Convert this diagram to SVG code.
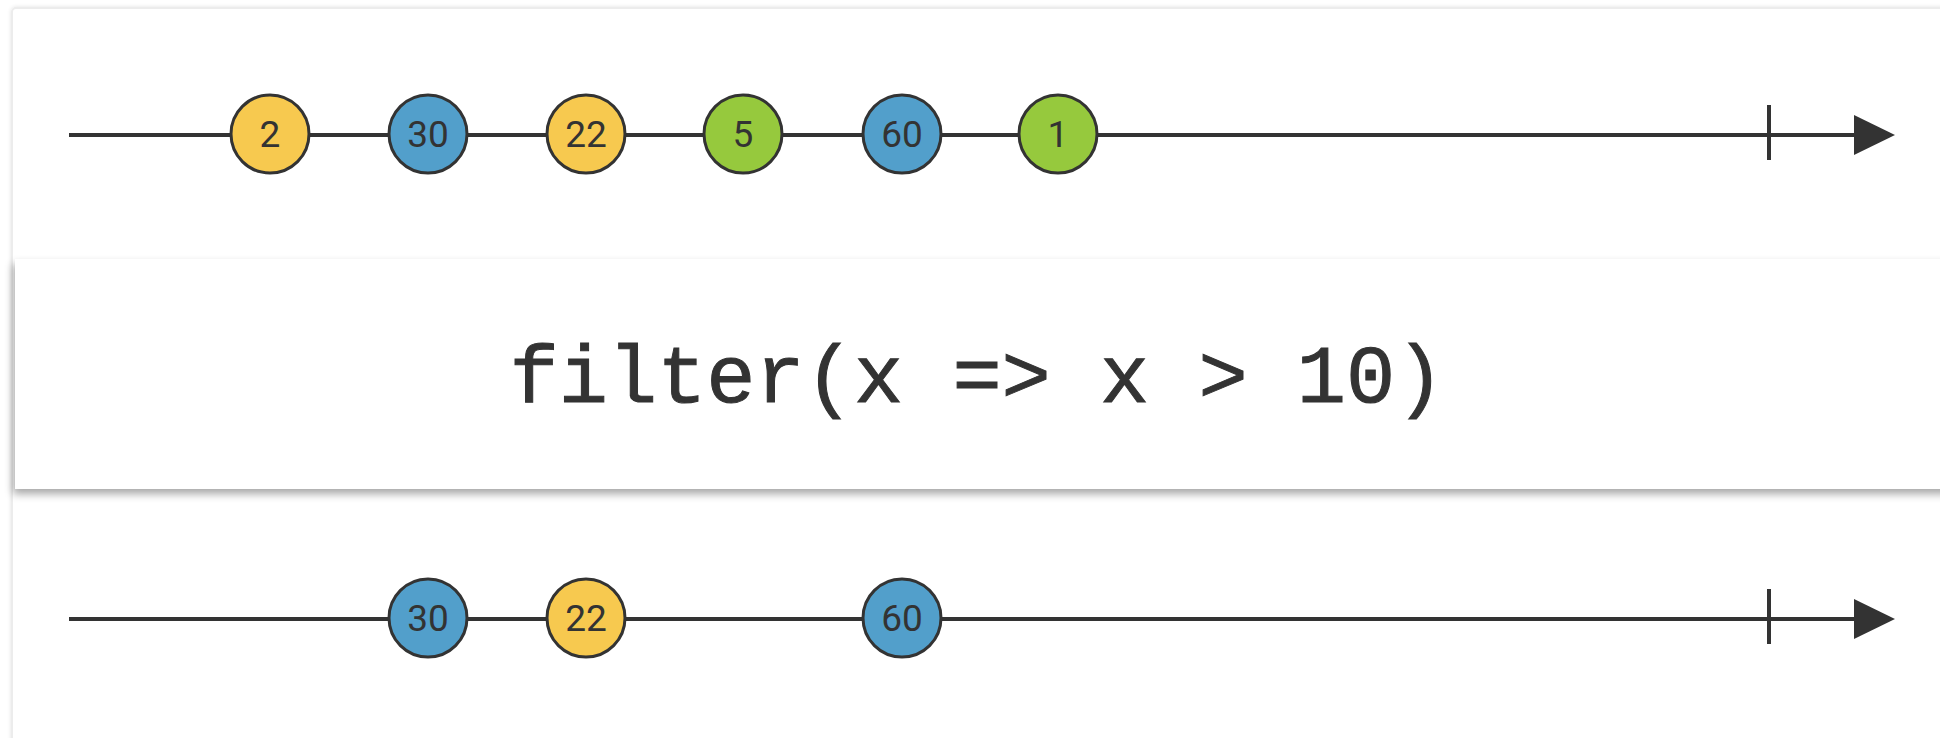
<svg xmlns="http://www.w3.org/2000/svg" width="1940" height="738" viewBox="0 0 1940 738">
  <defs>
    <style>
      .line { stroke: #333; stroke-width: 4; fill: none; }
      .tick { stroke: #333; stroke-width: 4; }
      .marble circle { stroke: #333; stroke-width: 3; }
      .marble text { font-family: Roboto, "Open Sans", sans-serif; font-size: 37px; fill: #333; text-anchor: middle; dominant-baseline: central; }
      .yellow { fill: #F7C94F; }
      .blue { fill: #529FCB; }
      .green { fill: #96C93D; }
      .op { font-family: "Liberation Mono", "Courier New", monospace; font-size: 82px; fill: #333; stroke: #333; stroke-width: 1; text-anchor: middle; }
    </style>
    <marker id="arrow" viewBox="0 0 41 40" refX="0" refY="20" markerWidth="41" markerHeight="40" markerUnits="userSpaceOnUse" orient="auto">
      <path d="M0,0 L41,20 L0,40 Z" fill="#333"/>
    </marker>
    <filter id="shadow" x="-5%" y="-20%" width="110%" height="150%">
      <feGaussianBlur in="SourceAlpha" stdDeviation="4"/>
      <feOffset dx="-2" dy="5"/>
      <feComponentTransfer><feFuncA type="linear" slope="0.35"/></feComponentTransfer>
      <feMerge><feMergeNode/><feMergeNode in="SourceGraphic"/></feMerge>
    </filter>
    <filter id="soft" x="-5%" y="-5%" width="110%" height="110%">
      <feGaussianBlur in="SourceAlpha" stdDeviation="2"/>
      <feComponentTransfer><feFuncA type="linear" slope="0.12"/></feComponentTransfer>
      <feMerge><feMergeNode/><feMergeNode in="SourceGraphic"/></feMerge>
    </filter>
  </defs>
  <rect width="1940" height="738" fill="#ffffff"/>
  <g id="panel">
    <rect x="12" y="8" width="2000" height="800" rx="4" fill="#ffffff" stroke="#ececec" stroke-width="2" filter="url(#soft)"/>
  </g>
  <g id="operator">
    <rect x="15" y="259" width="2000" height="230" fill="#ffffff" filter="url(#shadow)"/>
    <text class="op" x="977" y="402">filter(x =&gt; x &gt; 10)</text>
  </g>
  <g id="connectors">
    <line class="line" x1="69" y1="135" x2="1854" y2="135" marker-end="url(#arrow)"/>
    <line class="tick" x1="1769" y1="105" x2="1769" y2="160"/>
    <line class="line" x1="69" y1="619" x2="1854" y2="619" marker-end="url(#arrow)"/>
    <line class="tick" x1="1769" y1="589" x2="1769" y2="644"/>
  </g>
  <g id="input-2" class="marble"><circle class="yellow" cx="270" cy="134" r="39"/><text x="270" y="134">2</text></g>
  <g id="input-30" class="marble"><circle class="blue" cx="428" cy="134" r="39"/><text x="428" y="134">30</text></g>
  <g id="input-22" class="marble"><circle class="yellow" cx="586" cy="134" r="39"/><text x="586" y="134">22</text></g>
  <g id="input-5" class="marble"><circle class="green" cx="743" cy="134" r="39"/><text x="743" y="134">5</text></g>
  <g id="input-60" class="marble"><circle class="blue" cx="902" cy="134" r="39"/><text x="902" y="134">60</text></g>
  <g id="input-1" class="marble"><circle class="green" cx="1058" cy="134" r="39"/><text x="1058" y="134">1</text></g>
  <g id="output-30" class="marble"><circle class="blue" cx="428" cy="618" r="39"/><text x="428" y="618">30</text></g>
  <g id="output-22" class="marble"><circle class="yellow" cx="586" cy="618" r="39"/><text x="586" y="618">22</text></g>
  <g id="output-60" class="marble"><circle class="blue" cx="902" cy="618" r="39"/><text x="902" y="618">60</text></g>
</svg>
